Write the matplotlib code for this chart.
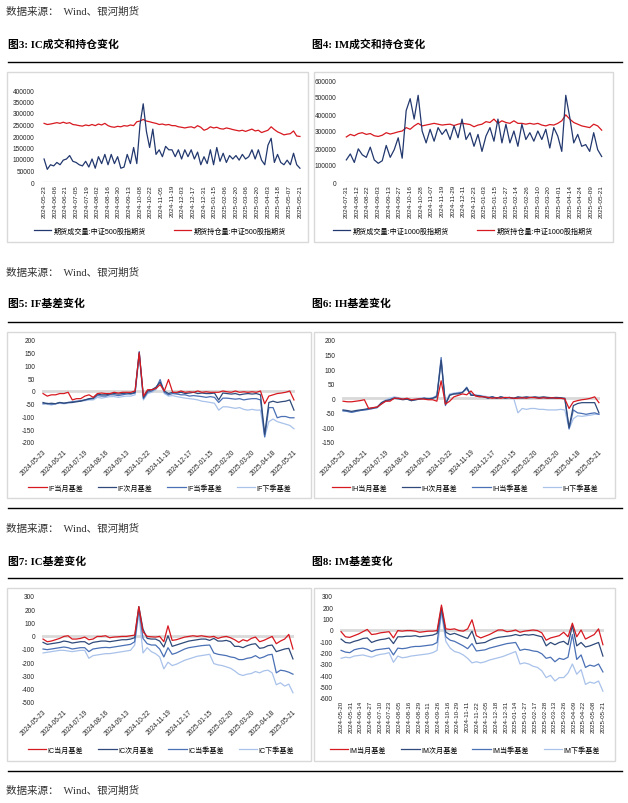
import numpy as np
import matplotlib
matplotlib.use("Agg")
from matplotlib import pyplot as plt
from matplotlib.patches import Rectangle
from matplotlib.lines import Line2D
from matplotlib.ticker import FuncFormatter, MultipleLocator

plt.rcParams['font.family'] = ['Liberation Sans', 'Noto Sans CJK SC']
plt.rcParams['axes.unicode_minus'] = False

# ---------------- data ----------------
# fig3: IC volume / open interest, unit 1000 lots, every 3 trading days
ic_vol = [100, 55, 75, 70, 85, 75, 95, 100, 115, 90, 85, 75, 70, 90, 65, 100, 60, 110, 80, 120,
          75, 120, 80, 110, 60, 65, 120, 80, 150, 80, 250, 340, 220, 150, 230, 120, 140, 110, 155, 140,
          140, 110, 140, 100, 140, 110, 140, 100, 130, 75, 110, 80, 140, 75, 150, 90, 125, 85, 115, 100,
          115, 95, 120, 100, 110, 140, 100, 140, 95, 75, 160, 190, 85, 120, 85, 75, 95, 75, 125, 75, 60]
ic_oi = [255, 250, 252, 255, 258, 255, 260, 255, 258, 250, 248, 245, 243, 248, 245, 250, 245, 252, 248, 255,
         245, 240, 238, 242, 240, 245, 243, 248, 245, 262, 265, 272, 265, 262, 258, 255, 250, 252, 248, 250,
         245, 245, 240, 238, 235, 238, 240, 235, 245, 238, 225, 230, 240, 235, 238, 232, 230, 235, 232, 228,
         225, 222, 225, 220, 225, 230, 222, 225, 215, 220, 225, 240, 228, 218, 212, 205, 208, 210, 222, 200, 198]
ic_vol_dates = ['2024-05-23', '2024-06-06', '2024-06-21', '2024-07-05', '2024-07-19', '2024-08-02',
                '2024-08-16', '2024-08-30', '2024-09-13', '2024-10-08', '2024-10-22', '2024-11-05',
                '2024-11-19', '2024-12-03', '2024-12-17', '2024-12-31', '2025-01-15', '2025-02-06',
                '2025-02-20', '2025-03-06', '2025-03-20', '2025-04-03', '2025-04-18', '2025-05-07',
                '2025-05-21']

# fig4: IM volume / open interest, unit 1000 lots, every 3 trading days
im_vol = [130, 165, 115, 195, 160, 145, 205, 130, 110, 125, 215, 145, 190, 260, 140, 420, 490, 370, 510, 300,
          230, 310, 240, 320, 280, 310, 250, 330, 260, 370, 250, 290, 210, 280, 180, 270, 320, 240, 370, 230,
          340, 230, 300, 210, 340, 250, 290, 240, 300, 250, 310, 200, 320, 270, 180, 510, 380, 230, 280, 210,
          220, 180, 290, 190, 150]
im_oi = [265, 280, 272, 285, 290, 280, 285, 272, 268, 275, 290, 282, 288, 295, 300, 320, 310, 330, 345, 330,
         335, 340, 345, 340, 335, 338, 340, 332, 340, 345, 342, 338, 325, 335, 340, 355, 350, 370, 345, 360,
         350, 345, 360, 345, 345, 340, 345, 340, 345, 335, 330, 338, 335, 345, 360, 395, 370, 350, 340, 330,
         325, 320, 340, 330, 305]
im_vol_dates = ['2024-07-31', '2024-08-12', '2024-08-22', '2024-09-03', '2024-09-13', '2024-09-27',
                '2024-10-16', '2024-10-28', '2024-11-07', '2024-11-19', '2024-11-29', '2024-12-11',
                '2024-12-23', '2025-01-03', '2025-01-15', '2025-01-27', '2025-02-14', '2025-02-26',
                '2025-03-10', '2025-03-20', '2025-04-01', '2025-04-14', '2025-04-24', '2025-05-09',
                '2025-05-21']

basis_dates = ['2024-05-23', '2024-06-21', '2024-07-19', '2024-08-16', '2024-09-13', '2024-10-22',
               '2024-11-19', '2024-12-17', '2025-01-15', '2025-02-20', '2025-03-20', '2025-04-18',
               '2025-05-21']

# fig5: IF basis, every 4 trading days
if_m1 = [-10, -20, -15, -15, -10, -10, -5, -35, -30, -30, -20, -15, -25, -10, -8, -10, -10, -5, -8, -5,
         -5, -5, 0, 150, -20, 5, 5, 10, 25, 0, 45, -5, -5, 0, -5, -3, -5, 0, -5, -3,
         -5, -5, -5, 0, -3, -5, 0, -5, -3, -5, -3, -5, 0, -50, -20, -15, -10, -8, -5, 0, -35]
if_m2 = [-45, -50, -48, -50, -45, -48, -45, -45, -42, -40, -35, -30, -28, -12, -15, -15, -12, -10, -12, -10,
         -8, -10, -5, 150, -25, 0, 5, 15, 35, 0, -10, -5, -8, -5, -10, -8, -5, -10, -8, -10,
         -10, -8, -35, -8, -10, -12, -10, -15, -12, -10, -12, -10, -15, -170, -45, -40, -45, -42, -40, -35, -75]
if_q1 = [-50, -48, -52, -50, -45, -48, -45, -42, -40, -38, -35, -32, -30, -18, -20, -20, -15, -15, -18, -15,
         -12, -12, -8, 155, -30, -5, 0, 10, 45, -5, -15, -10, -12, -15, -15, -20, -18, -20, -22, -25,
         -22, -25, -45, -28, -28, -30, -32, -30, -35, -32, -30, -30, -35, -180, -65, -65, -105, -100, -100, -105, -105]
if_q2 = [-50, -52, -55, -50, -48, -50, -48, -45, -42, -40, -38, -35, -35, -25, -28, -25, -22, -22, -25, -22,
         -20, -20, -15, 140, -35, -10, -5, 5, 35, -10, -20, -18, -22, -25, -28, -30, -32, -35, -40, -42,
         -45, -48, -75, -62, -62, -65, -68, -65, -72, -75, -72, -75, -75, -180, -120, -110, -120, -125, -130, -135, -148]

# fig6: IH basis
ih_m1 = [-10, -12, -12, -10, -8, -5, -35, -32, -30, -20, -10, -10, 0, 0, -3, 0, -5, -3, -2, -3,
         -5, -5, -10, 60, -20, -10, 5, 10, 15, 12, 25, 8, 5, 5, 3, 0, 2, 0, 3, 2,
         0, 0, 2, 0, 3, 2, 0, 2, 0, 2, 0, 0, -2, -35, -12, -8, -5, -3, 0, 5, -15]
ih_m2 = [-40, -42, -45, -42, -40, -38, -35, -33, -30, -15, -8, -5, 0, -2, -5, -3, -8, -5, -2, 0,
         -2, 0, 5, 130, -20, 10, 15, 15, 20, 35, 10, 10, 8, 5, 0, 5, 0, 5, 0, 3,
         0, 5, 3, 5, 3, 5, 3, 5, 3, 2, 3, 2, 0, -100, -25, -18, -15, -15, -15, -15, -50]
ih_q1 = [-42, -45, -48, -45, -42, -40, -38, -35, -32, -18, -10, -5, 2, 0, -3, -2, -8, -5, -3, 0,
         -2, 0, 8, 140, -25, 12, 15, 18, 20, 38, 12, 10, 8, 5, 2, 5, 0, 5, 2, 3,
         0, 3, 0, 3, 2, 3, 0, 2, 0, 0, 0, 0, -2, -105, -40, -50, -52, -55, -52, -50, -55]
ih_q2 = [-45, -45, -48, -45, -42, -40, -38, -35, -32, -15, -5, 0, 5, 2, -2, 0, -5, -3, 0, 2,
         0, 2, 10, 120, -15, 15, 18, 20, 22, 30, 15, 12, 10, 8, 5, 5, 2, 3, 2, 0,
         0, -50, -35, -38, -35, -35, -38, -38, -40, -40, -40, -38, -40, -105, -70, -60, -62, -60, -58, -55, -55]

# fig7: IC basis
ic_m1 = [-25, -45, -40, -30, -20, -5, 0, -25, -25, -20, -10, -30, -25, -5, -5, 0, -15, -10, -8, -5,
         -5, 0, 5, 220, 30, -5, -8, -10, -5, -45, 75, -35, -30, -20, -10, -5, 0, -5, 0, -5,
         -10, -5, -20, -10, -5, -15, -30, -50, -30, -40, -20, -10, -45, -35, -20, -5, -60, -40, -25, 10, -100]
ic_m2 = [-50, -65, -60, -55, -50, -40, -45, -55, -50, -45, -45, -65, -50, -45, -40, -40, -45, -40, -35, -30,
         -30, -25, -15, 220, 50, -20, -25, -25, -40, -85, 0, -80, -70, -60, -50, -40, -35, -30, -25, -25,
         -35, -20, -40, -40, -35, -45, -80, -80, -90, -75, -65, -60, -95, -90, -75, -70, -120, -110, -100, -95, -175]
ic_q1 = [-100, -105, -100, -95, -90, -85, -90, -100, -95, -90, -90, -120, -100, -95, -90, -88, -90, -85, -80, -75,
         -70, -65, -45, 200, -20, -60, -70, -70, -100, -160, -90, -140, -130, -115, -100, -90, -85, -80, -75, -72,
         -70, -130, -140, -145, -150, -160, -165, -180, -180, -170, -165, -150, -170, -160, -145, -140, -280, -260, -265, -275, -290]
ic_q2 = [-130, -125, -120, -115, -110, -110, -115, -120, -115, -110, -110, -170, -150, -145, -140, -135, -135, -130, -125, -120,
         -115, -110, -70, 170, -130, -90, -120, -135, -160, -250, -200, -225, -215, -200, -185, -175, -165, -155, -150, -145,
         -140, -210, -220, -225, -235, -245, -265, -290, -300, -290, -285, -270, -280, -265, -260, -280, -370, -355, -380, -365, -430]

# fig8: IM basis
im_m1 = [-15, -60, -65, -50, -35, -15, 5, -40, -35, -25, -20, -15, -70, -5, -10, -5, -5, -10, -20, -15,
         -10, -10, -5, 220, 10, 5, 10, -5, -10, 10, 90, -50, -70, -55, -40, -20, 0, 0, -15, -10,
         0, -20, -10, -5, 0, -5, -25, -90, -70, -60, -50, -20, -60, 60, -60, 0, -80, -60, -40, 10, -130]
im_m2 = [-80, -110, -115, -100, -90, -75, -70, -110, -95, -85, -80, -70, -120, -60, -60, -55, -55, -50, -60, -55,
         -50, -45, -30, 200, -20, -40, -30, -45, -60, -75, -10, -120, -115, -110, -90, -75, -65, -60, -55, -50,
         -40, -50, -40, -45, -40, -50, -60, -140, -110, -130, -110, -100, -130, 40, -140, -110, -150, -140, -125, -110, -230]
im_q1 = [-180, -195, -200, -175, -165, -160, -170, -190, -175, -170, -165, -160, -220, -160, -165, -160, -150, -145, -145, -140,
         -135, -130, -110, 180, -60, -90, -100, -120, -140, -165, -120, -185, -180, -175, -160, -150, -140, -130, -120, -115,
         -110, -180, -170, -175, -185, -190, -210, -250, -240, -280, -250, -260, -240, -40, -260, -220, -330, -310, -320, -300, -370]
im_q2 = [-250, -240, -245, -230, -225, -220, -230, -240, -225, -215, -210, -200, -285, -230, -245, -240, -230, -225, -220, -215,
         -210, -200, -180, 150, -100, -160, -190, -200, -220, -250, -290, -280, -290, -280, -265, -255, -245, -235, -220, -205,
         -190, -300, -290, -300, -320, -330, -360, -420, -400, -450, -420, -420, -380, -300, -390, -350, -480, -460, -470, -450, -540]
im_basis_dates = ['2024-05-20', '2024-05-31', '2024-06-14', '2024-06-27', '2024-07-10', '2024-07-23',
                  '2024-08-05', '2024-08-16', '2024-08-29', '2024-09-11', '2024-09-26', '2024-10-16',
                  '2024-10-29', '2024-11-11', '2024-11-22', '2024-12-05', '2024-12-18', '2024-12-31',
                  '2025-01-14', '2025-01-27', '2025-02-17', '2025-02-28', '2025-03-13', '2025-03-26',
                  '2025-04-09', '2025-04-22', '2025-05-08', '2025-05-21']

# ---------------- layout ----------------
W, H = 628, 804
fig = plt.figure(figsize=(W / 100, H / 100), dpi=100)

NAVY = '#22386e'
RED = '#d71920'
C_M2 = '#2f4a7a'
C_Q1 = '#4a70b5'
C_Q2 = '#a9c2ea'
GRID = '#d9d9d9'
CJK_SERIF = ['Liberation Serif', 'Noto Sans CJK SC']


def fx(x):
    return x / W


def fy(y):
    return 1 - y / H


def add_box(x0, y0, x1, y1):
    fig.patches.append(Rectangle((fx(x0), fy(y1)), (x1 - x0) / W, (y1 - y0) / H,
                                 transform=fig.transFigure, fill=False, ec=GRID, lw=1))


def add_rule(y):
    fig.add_artist(Line2D([fx(8), fx(622)], [fy(y), fy(y)], color='black', lw=1))


def make_ax(x0, y0, x1, y1):
    ax = fig.add_axes([fx(x0), fy(y1), (x1 - x0) / W, (y1 - y0) / H])
    for s in ax.spines.values():
        s.set_visible(False)
    ax.tick_params(length=0, labelsize=4.7, colors='#222222')
    return ax


def source(y):
    fig.text(fx(6), fy(y), '数据来源：  Wind、银河期货', family=CJK_SERIF, fontsize=7.6,
             color='#333333', va='center')


def title(x, y, s):
    fig.text(fx(x), fy(y), s, family=CJK_SERIF, fontsize=7.8, weight='bold', va='center')


source(12)
title(8, 44, '图3: IC成交和持仓变化')
title(312, 44, '图4: IM成交和持仓变化')
add_rule(63)
add_box(7, 73, 308, 243)
add_box(314, 73, 613, 243)

source(273)
title(8, 304, '图5: IF基差变化')
title(312, 304, '图6: IH基差变化')
add_rule(323)
add_box(7, 333, 311, 499)
add_box(314, 333, 615, 499)
add_rule(509)

source(529)
title(8, 562, '图7: IC基差变化')
title(312, 562, '图8: IM基差变化')
add_rule(579)
add_box(7, 589, 311, 762)
add_box(314, 589, 615, 762)
add_rule(772)
source(791)

fmt_int = FuncFormatter(lambda v, p: f"{v:.0f}")


# ---------------- volume charts ----------------
def volume_chart(rect, vol, oi, dates, span, ymax, ystep, names, legend_xy):
    ax = make_ax(*rect)
    l2, = ax.plot(np.linspace(0, span, len(oi)), np.array(oi) * 1000, color=RED, lw=0.9)
    l1, = ax.plot(np.linspace(0, span, len(vol)), np.array(vol) * 1000, color=NAVY, lw=0.9)
    ax.axhline(0, color=GRID, lw=1, zorder=0)
    ax.set_xlim(-1, span + 1)
    ax.set_ylim(0, ymax)
    ax.yaxis.set_major_locator(MultipleLocator(ystep))
    ax.yaxis.set_major_formatter(fmt_int)
    ax.set_xticks(np.linspace(0, span, len(dates)))
    ax.set_xticklabels(dates, rotation=90, fontsize=4.6)
    ax.tick_params(axis='x', pad=1.5)
    ax.tick_params(axis='y', pad=6)
    ax.legend([l1, l2], names, ncol=2, frameon=False, fontsize=5.1, handlelength=2.4,
              columnspacing=4.0, handletextpad=0.3, loc='center',
              bbox_to_anchor=(fx(legend_xy[0]), fy(legend_xy[1])), bbox_transform=fig.transFigure)
    return ax


volume_chart((43, 91, 301, 183), ic_vol, ic_oi, ic_vol_dates, 240, 400000, 50000,
             ['期货成交量:中证500股指期货', '期货持仓量:中证500股指期货'], (160, 232))
volume_chart((345, 81, 603, 183), im_vol, im_oi, im_vol_dates, 192, 600000, 100000,
             ['期货成交量:中证1000股指期货', '期货持仓量:中证1000股指期货'], (463, 232))


# ---------------- basis charts ----------------
def basis_chart(rect, series, prefix, dates, span, ylim, ystep, legend_xy, rot):
    ax = make_ax(*rect)
    colors = [RED, C_M2, C_Q1, C_Q2]
    names = [prefix + '当月基差', prefix + '次月基差', prefix + '当季基差', prefix + '下季基差']
    lines = []
    for vals, c in zip(series[::-1], colors[::-1]):
        ln, = ax.plot(np.linspace(0, span, len(vals)), vals, color=c, lw=0.9)
        lines.append(ln)
    lines = lines[::-1]
    ax.axhline(0, color=GRID, lw=2, zorder=0)
    ax.set_xlim(-1, span + 1)
    ax.set_ylim(*ylim)
    ax.yaxis.set_major_locator(MultipleLocator(ystep))
    ax.yaxis.set_major_formatter(fmt_int)
    ax.set_xticks(np.linspace(0, span, len(dates)))
    if rot == 45:
        ax.set_xticklabels(dates, rotation=45, ha='right', rotation_mode='anchor', fontsize=4.7)
        ax.tick_params(axis='x', pad=4)
    else:
        ax.set_xticklabels(dates, rotation=90, fontsize=4.5)
        ax.tick_params(axis='x', pad=1.5)
    ax.tick_params(axis='y', pad=5)
    ax.legend(lines, names, ncol=4, frameon=False, fontsize=5.1, handlelength=2.6,
              columnspacing=2.1, handletextpad=0.2, loc='center',
              bbox_to_anchor=(fx(legend_xy[0]), fy(legend_xy[1])), bbox_transform=fig.transFigure)
    return ax


basis_chart((42, 341, 295, 443), [if_m1, if_m2, if_q1, if_q2], 'IF', basis_dates, 240,
            (-200, 200), 50, (160, 489), 45)
basis_chart((342, 341, 600, 443), [ih_m1, ih_m2, ih_q1, ih_q2], 'IH', basis_dates, 240,
            (-150, 200), 50, (465, 489), 45)
basis_chart((42, 597, 294, 703), [ic_m1, ic_m2, ic_q1, ic_q2], 'IC', basis_dates, 240,
            (-500, 300), 100, (161, 751), 45)
basis_chart((340, 597, 604, 699), [im_m1, im_m2, im_q1, im_q2], 'IM', im_basis_dates, 243,
            (-600, 300), 100, (465, 751), 90)

fig.savefig('out.png', dpi=100)
